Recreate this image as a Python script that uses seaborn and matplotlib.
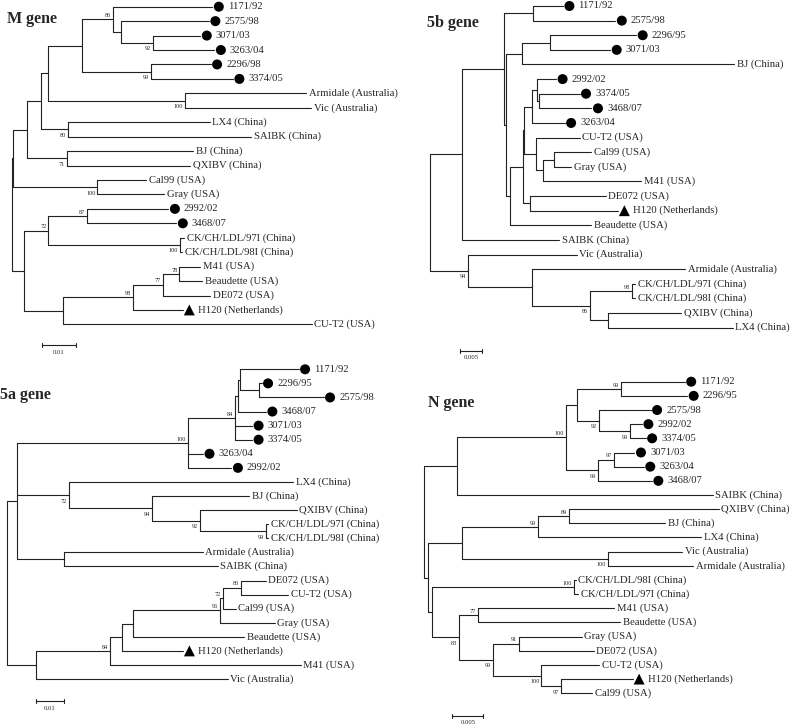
import pandas as pd
import seaborn as sns
import matplotlib.pyplot as plt

# Newick trees, branch lengths in substitutions/site.
# Bootstrap values: "+NN" is printed above its branch, "NN" below it.
M_TREE = ("(((((((1171/92:0.0289,(2575/98:0.0255,(3071/03:0.0138,3263/04:0.0179)92:0.0092):0.0024)+86:0.0090,"
          "(2296/98:0.0175,3374/05:0.0240)99:0.0199):0.0099,(Armidale:0.0353,Vic:0.0367)100:0.0399):0.0022,"
          "(LX4:0.0413,SAIBK:0.0534)80:0.0079):0.0039,(BJ:0.0369,QXIBV:0.0359)71:0.0115):0.0041,"
          "(Cal99:0.0142,Gray:0.0195)100:0.0245):0.0004,"
          "(((2992/02:0.0236,3468/07:0.0259)+87:0.0114,(CK/CH/LDL/97I:0.0012,CK/CH/LDL/98I:0.0006)100:0.0384)+72:0.0071,"
          "((((M41:0.0061,Beaudette:0.0066)+78:0.0049,DE072:0.0139)+77:0.0085,H120:0.0144)+98:0.0204,"
          "CU-T2:0.0724):0.0115):0.0035)")

B5_TREE = ("((((1171/92:0.0070,2575/98:0.0193):0.0068,(((2296/95:0.0203,3071/03:0.0142):0.0064,BJ:0.0497):0.0039,"
           "(((((2992/02:0.0044,(3374/05:0.0095,3468/07:0.0123):0.0004):0.0012,3263/04:0.0076):0.0020,"
           "(CU-T2:0.0102,((Cal99:0.0088,Gray:0.0041):0.0024,M41:0.0230):0.0017):0.0029):0.0002,"
           "(DE072:0.0177,H120:0.0206):0.0017):0.0031,Beaudette:0.0192):0.0009):0.0004):0.0100,SAIBK:0.0229):0.0074,"
           "(Vic:0.0254,(Armidale:0.0360,((CK/CH/LDL/97I:0.0008,CK/CH/LDL/98I:0.0008)+98:0.0098,"
           "(QXIBV:0.0171,LX4:0.0292):0.0043)86:0.0137):0.0149)94:0.0090)")

A5_TREE = ("((((((1171/92:0.0203,(2296/95:0.0009,2575/98:0.0225):0.0065):0.0009,3468/07:0.0098):0.0009,"
           "3071/03:0.0059,3374/05:0.0059)+84:0.0164,3263/04:0.0052,2992/02:0.0151)+100:0.0597,"
           "(LX4:0.0781,(BJ:0.0340,(QXIBV:0.0337,(CK/CH/LDL/97I:0.0008,CK/CH/LDL/98I:0.0008)99:0.0231)92:0.0168)94:0.0288)72:0.0182,"
           "(Armidale:0.0482,SAIBK:0.0534):0.0166):0.0035,"
           "(((((((DE072:0.0088,CU-T2:0.0166)+80:0.0063,Cal99:0.0046)+72:0.0009,Gray:0.0191)+96:0.0302,"
           "Beaudette:0.0386):0.0040,H120:0.0213):0.0041,M41:0.0665)+84:0.0259,Vic:0.0670):0.0101)")

N_TREE = ("(((((1171/92:0.0102,2296/95:0.0106)+99:0.0071,(2575/98:0.0084,(2992/02:0.0020,3374/05:0.0026)99:0.0050)92:0.0034):0.0018,"
          "((3071/03:0.0033,3263/04:0.0048)+97:0.0026,3468/07:0.0087)99:0.0051)+100:0.0176,SAIBK:0.0412):0.0053,"
          "((((QXIBV:0.0242,BJ:0.0156)+89:0.0050,LX4:0.0264)+99:0.0122,(Vic:0.0120,Armidale:0.0138)100:0.0235):0.0055,"
          "((CK/CH/LDL/98I:0.0002,CK/CH/LDL/97I:0.0006)+100:0.0230,((M41:0.0219,Beaudette:0.0229)+77:0.0031,"
          "((Gray:0.0101,DE072:0.0120)+91:0.0042,(CU-T2:0.0093,(H120:0.0115,Cal99:0.0050)97:0.0032)100:0.0078)99:0.0055)83:0.0044):0.0006):0.0006)")

TITLES = ["M gene", "5b gene", "5a gene", "N gene"]
TREES = [M_TREE, B5_TREE, A5_TREE, N_TREE]
SCALE_BARS = [0.01, 0.005, 0.01, 0.005]

COUNTRY = {"Armidale": "Australia", "Vic": "Australia", "LX4": "China", "SAIBK": "China",
           "BJ": "China", "QXIBV": "China", "CK/CH/LDL/97I": "China", "CK/CH/LDL/98I": "China",
           "Cal99": "USA", "Gray": "USA", "M41": "USA", "Beaudette": "USA", "DE072": "USA",
           "CU-T2": "USA", "H120": "Netherlands"}
VACCINE = ["H120"]

# panel layout in pixels: box, root x, px per unit, first leaf y, leaf step, title pos, scale bar pos
LAYOUT = [
    dict(box=(0, 0, 397, 362), root=12, ppu=3430, leaf0=6.7, step=14.44, title=(7, 19), bar=(41.7, 345)),
    dict(box=(397, 0, 794, 362), root=430, ppu=4260, leaf0=6, step=14.62, title=(426.7, 22.7), bar=(460.3, 350.7)),
    dict(box=(0, 362, 397, 725), root=6.7, ppu=2870, leaf0=369.3, step=14.08, title=(0.5, 395), bar=(35.7, 701)),
    dict(box=(397, 362, 794, 725), root=424.3, ppu=6200, leaf0=381.7, step=14.16, title=(428.3, 403.3), bar=(452.3, 715.7)),
]

W, H = 794, 725
LINE = "#222222"


def parse(s):
    pos = 0

    def read():
        nonlocal pos
        kids = []
        if s[pos] == "(":
            pos += 1
            kids.append(read())
            while s[pos] == ",":
                pos += 1
                kids.append(read())
            pos += 1
        start = pos
        while pos < len(s) and s[pos] not in ":,)":
            pos += 1
        label = s[start:pos]
        length = 0.0
        if pos < len(s) and s[pos] == ":":
            pos += 1
            start = pos
            while pos < len(s) and s[pos] not in ",)":
                pos += 1
            length = float(s[start:pos])
        return {"label": label, "len": length, "children": kids}

    return read()


def place(tree):
    leaves, nodes = [], []

    def walk(nd, x):
        nd["x"] = x
        if nd["children"]:
            for c in nd["children"]:
                walk(c, x + c["len"])
            nd["y"] = (nd["children"][0]["y"] + nd["children"][-1]["y"]) / 2
        else:
            nd["y"] = len(leaves)
            leaves.append(nd)
        nodes.append(nd)

    walk(tree, 0.0)
    return leaves, nodes


sns.set_style("white")
plt.rcParams["font.family"] = ["Liberation Serif", "DejaVu Serif"]

fig = plt.figure(figsize=(W / 100, H / 100), dpi=100)

for title, newick, bar_len, lay in zip(TITLES, TREES, SCALE_BARS, LAYOUT):
    x0, y0, x1, y1 = lay["box"]
    rx, ppu, ly, st = lay["root"], lay["ppu"], lay["leaf0"], lay["step"]
    ax = fig.add_axes([x0 / W, 1 - y1 / H, (x1 - x0) / W, (y1 - y0) / H])

    leaves, nodes = place(parse(newick))

    # branches: one vertical per inner node + one horizontal per child
    rows, k = [], 0
    for nd in nodes:
        if not nd["children"]:
            continue
        ys = [c["y"] for c in nd["children"]]
        rows += [(k, nd["x"], ys[0]), (k, nd["x"], ys[-1])]
        k += 1
        for c in nd["children"]:
            rows += [(k, nd["x"], c["y"]), (k, c["x"], c["y"])]
            k += 1
    segs = pd.DataFrame(rows, columns=["seg", "x", "y"])
    sns.lineplot(data=segs, x="x", y="y", units="seg", estimator=None, sort=False,
                 color=LINE, linewidth=0.8, legend=False, ax=ax)

    # symbols for Taiwan isolates (dots) and vaccine strain (triangle)
    marks = pd.DataFrame([{"x": lf["x"] + 6.5 / ppu, "y": lf["y"],
                           "kind": "tri" if lf["label"] in VACCINE else "dot"}
                          for lf in leaves if lf["label"] not in COUNTRY or lf["label"] in VACCINE])
    sns.scatterplot(data=marks, x="x", y="y", style="kind", markers={"dot": "o", "tri": "^"},
                    size="kind", sizes={"dot": 52, "tri": 62}, color="black", linewidth=0,
                    legend=False, ax=ax)

    for lf in leaves:
        name = lf["label"]
        text = f"{name} ({COUNTRY[name]})" if name in COUNTRY else name
        marked = name not in COUNTRY or name in VACCINE
        off = 15.5 if marked else 2.5
        ax.text(lf["x"] + off / ppu, lf["y"], text, ha="left", va="center", fontsize=7.7)

    for nd in nodes:
        if nd["children"] and nd["label"]:
            dy = -3.7 if nd["label"].startswith("+") else 6.0
            ax.text(nd["x"] - 2 / ppu, nd["y"] + dy / st, nd["label"].lstrip("+"),
                    ha="right", va="center", fontsize=4.5)

    # scale bar
    bx, by = lay["bar"]
    xs, yb = (bx - rx) / ppu, (by - ly) / st
    ax.plot([xs, xs + bar_len], [yb, yb], color=LINE, lw=0.8)
    for xe in (xs, xs + bar_len):
        ax.plot([xe, xe], [yb - 2 / st, yb + 2 / st], color=LINE, lw=0.8)
    ax.text(xs + bar_len / 2, yb + 7 / st, f"{bar_len:g}", ha="center", va="center", fontsize=4.8)

    ax.set_xlim((x0 - rx) / ppu, (x1 - rx) / ppu)
    ax.set_ylim((y1 - ly) / st, (y0 - ly) / st)
    ax.axis("off")

    tx, ty = lay["title"]
    fig.text(tx / W, 1 - ty / H, title, fontsize=11.5, fontweight="bold", ha="left", va="center")

fig.savefig("out.png", dpi=100)
